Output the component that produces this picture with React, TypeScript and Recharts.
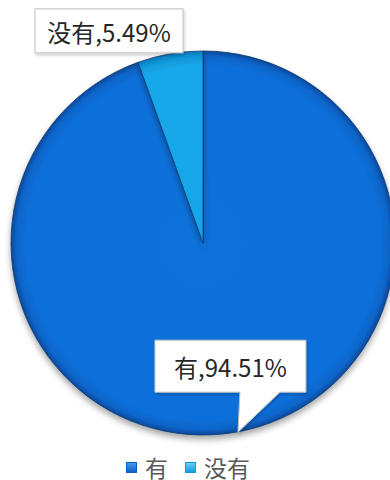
import { Legend, Pie, PieChart, Cell } from 'recharts';

const CATEGORIES = ['有', '没有'];
const VALUES = [94.51, 5.49];

const SLICE_FILLS = ['url(#gradYou)', 'url(#gradMeiyou)'];
const LEGEND_COLORS = [
  ['#4a9cf0', '#0b5fc4'],
  ['#6fd2f7', '#109bdc']
];

const data = CATEGORIES.map((name, i) => ({ name, value: VALUES[i] }));

const RADIAN = Math.PI / 180;
const FONT = '"Noto Sans CJK SC", "Noto Sans", sans-serif';

function renderLabel(props: any) {
  const { cx, cy, midAngle, outerRadius, index, name, value } = props;
  const ax = cx + outerRadius * Math.cos(-midAngle * RADIAN);
  const ay = cy + outerRadius * Math.sin(-midAngle * RADIAN);
  const text = `${name},${Number(value).toFixed(2)}%`;

  if (index === 0) {
    // callout box above the rim point
    const left = ax - 81;
    const right = ax + 70;
    const top = ay - 92;
    const bottom = ay - 40;
    const d = `M${left},${top} H${right} V${bottom} H${ax + 44} L${ax + 2},${ay} L${ax + 4},${bottom} H${left} Z`;
    return (
      <g key="lbl-0">
        <path d={d} fill="#ffffff" stroke="#bfbfbf" strokeWidth={1} filter="url(#boxShadow)" />
        <text x={(left + right) / 2} y={ay - 55} textAnchor="middle" fontFamily={FONT} fontSize={24} fill="#262626">
          {text}
        </text>
      </g>
    );
  }

  const left = ax - 135;
  const right = ax + 13;
  const top = ay - 45;
  const bottom = ay - 1;
  return (
    <g key="lbl-1">
      <rect x={left} y={top} width={right - left} height={bottom - top} fill="#ffffff" stroke="#bfbfbf" strokeWidth={1} filter="url(#boxShadow)" />
      <text x={(left + right) / 2} y={ay - 12} textAnchor="middle" fontFamily={FONT} fontSize={24} fill="#262626">
        {text}
      </text>
    </g>
  );
}

function LegendContent({ payload }: any) {
  return (
    <div style={{ display: 'flex', alignItems: 'center', height: 34, fontFamily: FONT, color: '#595959' }}>
      {(payload || []).map((entry: any, i: number) => (
        <div key={`leg-${i}`} style={{ display: 'flex', alignItems: 'center', marginRight: 17 }}>
          <svg width={11} height={11} style={{ marginRight: 8, display: 'block' }}>
            <defs>
              <linearGradient id={`legGrad${i}`} x1="0" y1="0" x2="0" y2="1">
                <stop offset="0%" stopColor={LEGEND_COLORS[i][0]} />
                <stop offset="100%" stopColor={LEGEND_COLORS[i][1]} />
              </linearGradient>
            </defs>
            <rect x={0.5} y={0.5} width={10} height={10} fill={`url(#legGrad${i})`} stroke={LEGEND_COLORS[i][1]} />
          </svg>
          <span style={{ fontSize: 23, fontFamily: FONT, color: '#595959', whiteSpace: 'nowrap', lineHeight: 'normal' }}>
            {entry.value}
          </span>
        </div>
      ))}
    </div>
  );
}

export default function App() {
  const cx = 203;
  const cy = 243;
  const r = 192;
  return (
    <div style={{ position: 'absolute', left: 0, top: 0, width: 390, height: 480, background: '#ffffff' }}>
      <PieChart width={390} height={480} margin={{ top: 0, right: 0, bottom: 0, left: 0 }}>
        <defs>
          <radialGradient id="gradYou" gradientUnits="userSpaceOnUse" cx={cx} cy={cy} r={r}>
            <stop offset="0%" stopColor="#0c72dc" />
            <stop offset="92%" stopColor="#0b70da" />
            <stop offset="97%" stopColor="#0965ca" />
            <stop offset="100%" stopColor="#06489a" />
          </radialGradient>
          <radialGradient id="gradMeiyou" gradientUnits="userSpaceOnUse" cx={cx} cy={cy} r={r}>
            <stop offset="0%" stopColor="#15a5e8" />
            <stop offset="92%" stopColor="#17a8ea" />
            <stop offset="97%" stopColor="#1096d8" />
            <stop offset="100%" stopColor="#0a78b8" />
          </radialGradient>
          <filter id="pieShadow" x="-10%" y="-10%" width="120%" height="125%">
            <feDropShadow dx={0} dy={4} stdDeviation={3} floodColor="#000000" floodOpacity={0.35} />
          </filter>
          <filter id="boxShadow" x="-10%" y="-10%" width="125%" height="130%">
            <feDropShadow dx={1} dy={2} stdDeviation={1.5} floodColor="#000000" floodOpacity={0.2} />
          </filter>
        </defs>
        <Pie
          data={data}
          dataKey="value"
          nameKey="name"
          cx={cx}
          cy={cy}
          outerRadius={r}
          startAngle={90}
          endAngle={-270}
          stroke="#0d3a6e"
          strokeWidth={0.8}
          label={renderLabel}
          labelLine={false}
          isAnimationActive={false}
          style={{ filter: 'url(#pieShadow)' }}
        >
          {data.map((item, index) => (
            <Cell key={`slice-${item.name}`} fill={SLICE_FILLS[index]} />
          ))}
        </Pie>
        <Legend
          content={<LegendContent />}
          wrapperStyle={{ position: 'absolute', left: 126, top: 450, width: 230, height: 34, overflow: 'visible' }}
        />
      </PieChart>
    </div>
  );
}
